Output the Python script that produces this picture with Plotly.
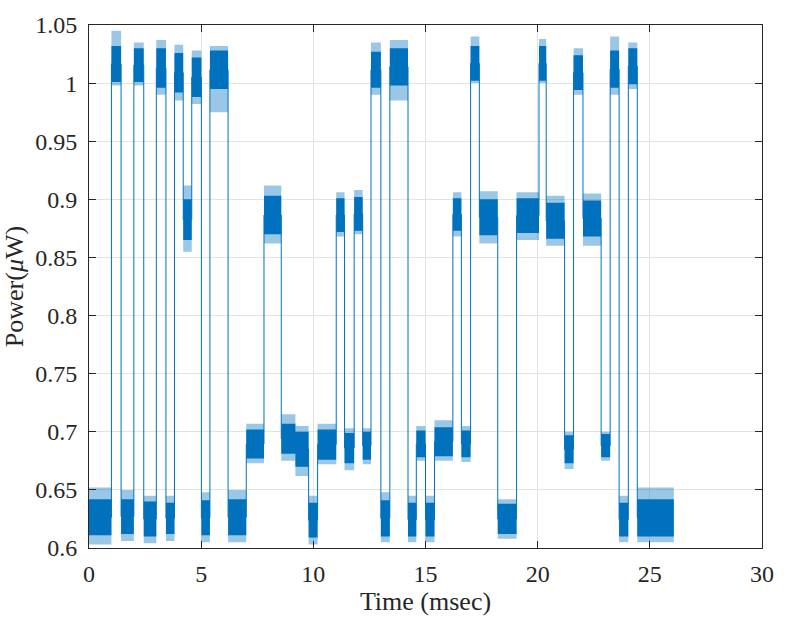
import plotly.graph_objects as go

# Segment start times (msec); last value is the end of the record
seg_t = [0.00, 1.00, 1.43, 2.00, 2.44, 3.00, 3.43, 3.81, 4.20, 4.58,
         5.01, 5.39, 6.20, 7.01, 7.80, 8.57, 9.20, 9.79, 10.19, 11.02,
         11.39, 11.82, 12.20, 12.57, 13.01, 13.41, 14.22, 14.59, 15.00, 15.40,
         16.22, 16.60, 17.01, 17.40, 18.22, 19.06, 20.06, 20.38, 21.20, 21.60,
         22.02, 22.83, 23.23, 23.63, 24.04, 24.44, 26.07]

# Outer extent of the noise in each segment (uW)
ext_lo = [0.603, 0.998, 0.606, 0.998, 0.604, 0.990, 0.606, 0.985, 0.855, 0.982,
          0.605, 0.975, 0.605, 0.673, 0.862, 0.675, 0.662, 0.603, 0.672, 0.868,
          0.667, 0.870, 0.672, 0.990, 0.605, 0.985, 0.605, 0.675, 0.605, 0.675,
          0.868, 0.674, 1.000, 0.862, 0.608, 0.865, 1.000, 0.860, 0.668, 0.990,
          0.860, 0.675, 0.990, 0.605, 0.995, 0.605]
ext_hi = [0.652, 1.045, 0.650, 1.035, 0.645, 1.037, 0.645, 1.033, 0.912, 1.028,
          0.648, 1.032, 0.650, 0.707, 0.912, 0.715, 0.705, 0.645, 0.707, 0.906,
          0.703, 0.908, 0.703, 1.035, 0.648, 1.037, 0.645, 0.705, 0.645, 0.710,
          0.906, 0.705, 1.040, 0.907, 0.642, 0.906, 1.038, 0.903, 0.700, 1.030,
          0.905, 0.700, 1.040, 0.645, 1.035, 0.652]

# Dense core of the noise in each segment (uW)
core_lo = [0.611, 1.001, 0.612, 1.001, 0.610, 0.996, 0.612, 0.992, 0.865, 0.988,
           0.611, 0.995, 0.611, 0.677, 0.870, 0.681, 0.670, 0.609, 0.676, 0.872,
           0.673, 0.873, 0.676, 0.996, 0.610, 0.998, 0.610, 0.678, 0.610, 0.679,
           0.873, 0.678, 1.002, 0.869, 0.612, 0.871, 1.002, 0.866, 0.673, 0.994,
           0.868, 0.678, 0.996, 0.610, 0.999, 0.610]
core_hi = [0.642, 1.032, 0.642, 1.030, 0.640, 1.030, 0.639, 1.026, 0.900, 1.022,
           0.641, 1.028, 0.642, 0.702, 0.903, 0.707, 0.700, 0.639, 0.702, 0.901,
           0.699, 0.902, 0.700, 1.027, 0.641, 1.030, 0.639, 0.701, 0.639, 0.704,
           0.901, 0.701, 1.032, 0.900, 0.638, 0.901, 1.032, 0.897, 0.697, 1.024,
           0.899, 0.698, 1.028, 0.639, 1.030, 0.642]

x_ticks = [0, 5, 10, 15, 20, 25, 30]
y_ticks = [0.6, 0.65, 0.7, 0.75, 0.8, 0.85, 0.9, 0.95, 1.0, 1.05]
y_tick_text = ["0.6", "0.65", "0.7", "0.75", "0.8", "0.85", "0.9", "0.95", "1", "1.05"]

BLUE = "#0072BD"
FONT = "Liberation Serif"
INK = "#262626"


def bands(lo, hi):
    xs, ys = [], []
    for i in range(len(lo)):
        s, e = seg_t[i], seg_t[i + 1]
        xs += [s, e, e, s, s, None]
        ys += [lo[i], lo[i], hi[i], hi[i], lo[i], None]
    return xs, ys


fig = go.Figure()

ex, ey = bands(ext_lo, ext_hi)
fig.add_trace(go.Scatter(x=ex, y=ey, mode="lines", fill="toself",
                         fillcolor="rgba(0,114,189,0.40)", line=dict(width=0),
                         hoverinfo="skip", showlegend=False))
cx, cy = bands(core_lo, core_hi)
fig.add_trace(go.Scatter(x=cx, y=cy, mode="lines", fill="toself",
                         fillcolor="rgba(0,114,189,1.0)", line=dict(width=0),
                         hoverinfo="skip", showlegend=False))

# step line joining the segment levels
sx, sy = [], []
for i in range(len(core_lo)):
    mid = (core_lo[i] + core_hi[i]) / 2
    sx += [seg_t[i], seg_t[i + 1]]
    sy += [mid, mid]
fig.add_trace(go.Scatter(x=sx, y=sy, mode="lines",
                         line=dict(color=BLUE, width=1), showlegend=False))

axis_common = dict(
    showline=True, linecolor=INK, linewidth=1, mirror="ticks",
    ticks="inside", ticklen=7, tickcolor=INK,
    showgrid=True, gridcolor="#e3e3e3", gridwidth=1, zeroline=False,
    tickfont=dict(family=FONT, size=24, color=INK),
)

fig.update_xaxes(range=[0, 30], tickvals=x_ticks,
                 title=dict(text="Time (msec)", font=dict(family=FONT, size=26, color=INK),
                            standoff=6),
                 ticklabelstandoff=4, **axis_common)
fig.update_yaxes(range=[0.6, 1.05], tickvals=y_ticks, ticktext=y_tick_text,
                 title=dict(text="Power(<i>μ</i>W)", font=dict(family=FONT, size=26, color=INK),
                            standoff=4),
                 ticklabelstandoff=6, **axis_common)

fig.update_layout(
    width=786, height=628,
    margin=dict(l=89, r=19, t=12, b=80),
    paper_bgcolor="white", plot_bgcolor="white",
    font=dict(family=FONT, color=INK),
    showlegend=False,
)

fig.write_html("out.html")
